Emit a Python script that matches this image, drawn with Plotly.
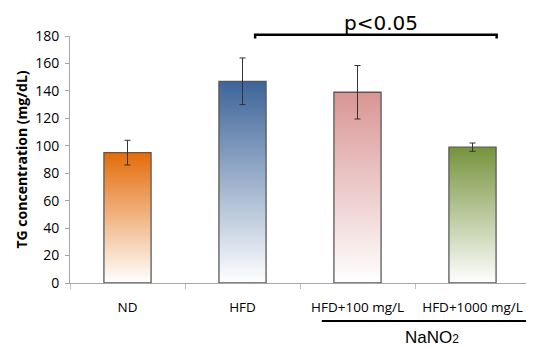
import plotly.graph_objects as go

categories = ["ND", "HFD", "HFD+100 mg/L", "HFD+1000 mg/L"]
values = [95, 147, 139, 99]
errors = [9, 17, 19.5, 3]
top_colors = ["#E46C0A", "#3D6499", "#D99594", "#76933C"]
y_ticks = [0, 20, 40, 60, 80, 100, 120, 140, 160, 180]

bar_w = 0.41
fig = go.Figure()

for i, (v, c) in enumerate(zip(values, top_colors)):
    x0, x1 = i - bar_w / 2, i + bar_w / 2
    fig.add_trace(go.Scatter(
        x=[x0, x1, x1, x0, x0], y=[0, 0, v, v, 0],
        mode="lines", line=dict(width=1.3, color="#595959"), fill="toself",
        fillgradient=dict(type="vertical", colorscale=[[0, "#FFFFFF"], [1, c]]),
        hoverinfo="skip", showlegend=False))

# error bars drawn on top of the gradient bars
fig.add_trace(go.Scatter(
    x=list(range(len(categories))), y=values, mode="markers",
    marker=dict(size=1, color="rgba(0,0,0,0)"),
    error_y=dict(type="data", array=errors, color="#333333", thickness=1, width=3),
    showlegend=False))

# significance bracket
fig.add_shape(type="path", xref="x", yref="paper",
              path="M 1.11,0.99 L 1.11,1.005 L 3.21,1.005 L 3.21,0.99",
              line=dict(color="black", width=2.5))
fig.add_annotation(x=2.2, y=1.0, xref="x", yref="paper", text="p<0.05",
                   showarrow=False, yanchor="bottom", yshift=-1,
                   font=dict(family="DejaVu Sans", size=20, color="black"))

# NaNO2 group line
fig.add_shape(type="line", xref="x", yref="paper", x0=1.69, x1=3.6, y0=-0.154, y1=-0.154,
              line=dict(color="black", width=2))
fig.add_annotation(x=2.65, y=-0.222, xref="x", yref="paper",
                   text="NaNO<span style='font-size:12px'>2</span>",
                   showarrow=False, yanchor="middle",
                   font=dict(family="Liberation Sans", size=17, color="black"))

fig.update_layout(
    width=526, height=340,
    margin=dict(l=62, r=4, t=28, b=65),
    plot_bgcolor="white", paper_bgcolor="white",
    font=dict(family="Open Sans", size=12, color="black"),
)
fig.update_xaxes(
    range=[-0.5, 3.5], tickvals=list(range(len(categories))), ticktext=categories,
    ticks="", showline=True, linecolor="#A6A6A6", linewidth=1, showgrid=False,
    zeroline=False, tickfont=dict(size=13.5), ticklabelstandoff=12,
    minor=dict(tick0=0.5, dtick=1, ticks="outside", ticklen=5, tickcolor="#BFBFBF", showgrid=False),
)
fig.update_yaxes(
    range=[0, 180], tickvals=y_ticks, ticks="outside", ticklen=4, tickcolor="#A6A6A6",
    showline=True, linecolor="#A6A6A6", linewidth=1, showgrid=False, zeroline=False,
    tickfont=dict(size=14), ticklabelstandoff=3, automargin=False,
    title=dict(text="<b>TG concentration (mg/dL)</b>", font=dict(size=14), standoff=4),
)

fig.write_html("out.html")
